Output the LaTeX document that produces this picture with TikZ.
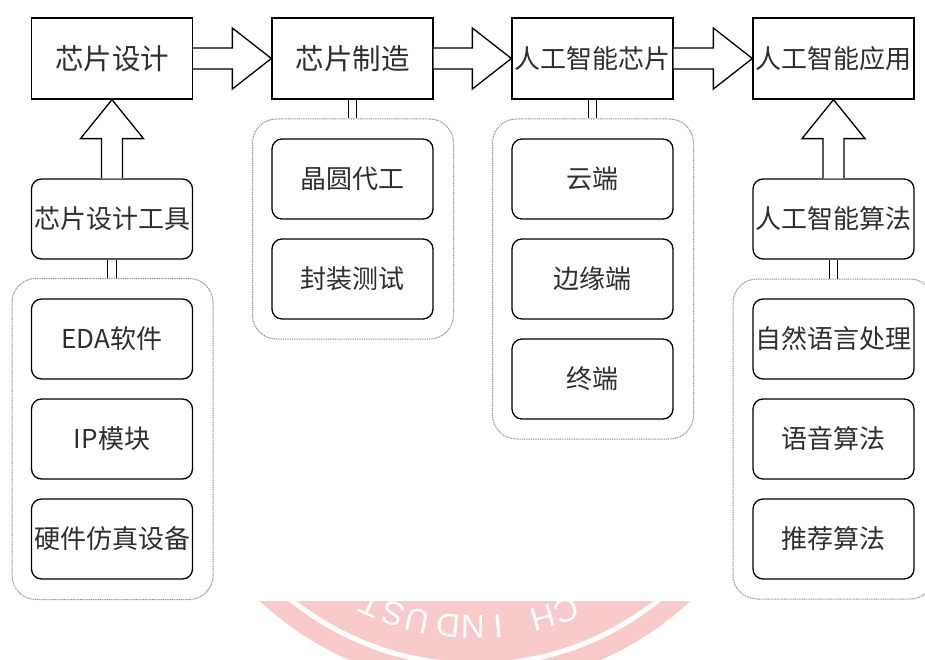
\documentclass[tikz,border=0pt]{standalone}
\usepackage{fontspec}
\newfontfamily\cjk{Noto Sans CJK SC}
\newfontfamily\wmfont{Liberation Sans}
\usetikzlibrary{calc}
\definecolor{txt}{HTML}{2E2E2E}
\definecolor{stamp}{RGB}{248,202,202}
\definecolor{grpc}{HTML}{8A8A8A}
\newcommand\myharrow[2]{%
  \draw[barrow] ($(#1.east)+(0,-10.5)$) -- ($(#2.west)+(-39,-10.5)$) -- ($(#2.west)+(-39,-30.5)$)
    -- (#2.west) -- ($(#2.west)+(-39,30.5)$) -- ($(#2.west)+(-39,10.5)$) -- ($(#1.east)+(0,10.5)$);}
\newcommand\myvarrow[2]{%
  \draw[barrow] ($(#1.north)+(-10.5,0)$) -- ($(#2.south)+(-10.5,39)$) -- ($(#2.south)+(-31.5,39)$)
    -- (#2.south) -- ($(#2.south)+(31.5,39)$) -- ($(#2.south)+(10.5,39)$) -- ($(#1.north)+(10.5,0)$);}
\newcommand\mylink[2]{%
  \draw[linkline] ($(#1.south)+(-4.3,0)$) -- ($(#1.south |- #2.north)+(-4.3,0)$);
  \draw[linkline] ($(#1.south)+(4.3,0)$) -- ($(#1.south |- #2.north)+(4.3,0)$);}
\begin{document}
\begin{tikzpicture}[x=1pt,y=-1pt,
  box/.style={draw=black, line width=1.3pt, fill=white, minimum width=161pt, minimum height=81pt,
    inner sep=0pt, text=txt, font={\cjk\fontsize{26pt}{30pt}\selectfont}},
  bigbox/.style={box, font={\cjk\fontsize{28.5pt}{32pt}\selectfont}},
  rbox/.style={box, rounded corners=10pt, minimum height=80pt},
  grp/.style={draw=grpc, line width=1pt, dash pattern=on 1pt off 0.8pt, rounded corners=24pt,
    minimum width=201pt, inner sep=0pt},
  barrow/.style={draw=black, fill=white, line width=1.3pt, line join=miter},
  linkline/.style={draw=black, line width=1.2pt},
  wm/.style={text=white, font={\wmfont\fontsize{33pt}{34pt}\selectfont}, inner sep=0pt}
]
\useasboundingbox (0,0) rectangle (925,660);
\clip (0,0) rectangle (925,660);
\fill[white] (0,0) rectangle (925,660);
% watermark stamp (partly visible at the bottom)
\fill[stamp] (475,371) circle (315);
\draw[white, line width=5pt] (475,371) circle (293.5);
\foreach \a/\l in {69.0/C,74.5/H,84.8/I,90.5/N,96.0/D,103.0/U,108.6/S,114.0/T}{
  \pgfmathsetmacro\rot{-90-\a}
  \node[wm, rotate=\rot] at ($(475,371)+(\a:256)$) {\l};
}
\fill[white] (0,0) rectangle (925,600.5);

% groups
\node[grp, minimum height=321pt] (g1) at (112.5,439) {};
\node[grp, minimum height=220pt] (g2) at (353,229) {};
\node[grp, minimum height=320pt] (g3) at (593,279) {};
\node[grp, minimum height=320pt] (g4) at (833.5,439) {};

% top row
\node[bigbox] (d1) at (112,58.5) {芯片设计};
\node[bigbox] (d2) at (352.5,58.5) {芯片制造};
\node[box] (d3) at (592.5,58.5) {人工智能芯片};
\node[box] (d4) at (833.5,58.5) {人工智能应用};

% column 1
\node[rbox] (t1) at (112,219) {芯片设计工具};
\node[rbox] (a1) at (112,339) {EDA软件};
\node[rbox] (a2) at (112,439) {IP模块};
\node[rbox] (a3) at (112,539) {硬件仿真设备};

% column 2
\node[rbox] (b1) at (352.5,179) {晶圆代工};
\node[rbox] (b2) at (352.5,279) {封装测试};

% column 3
\node[rbox] (c1) at (592.5,179) {云端};
\node[rbox] (c2) at (592.5,279) {边缘端};
\node[rbox] (c3) at (592.5,379) {终端};

% column 4
\node[rbox] (t4) at (833.5,219) {人工智能算法};
\node[rbox] (e1) at (833.5,339) {自然语言处理};
\node[rbox] (e2) at (833.5,439) {语音算法};
\node[rbox] (e3) at (833.5,539) {推荐算法};

% block arrows
\myharrow{d1}{d2}
\myharrow{d2}{d3}
\myharrow{d3}{d4}
\myvarrow{t1}{d1}
\myvarrow{t4}{d4}

% double links
\mylink{t1}{g1}
\mylink{d2}{g2}
\mylink{d3}{g3}
\mylink{t4}{g4}
\end{tikzpicture}
\end{document}
